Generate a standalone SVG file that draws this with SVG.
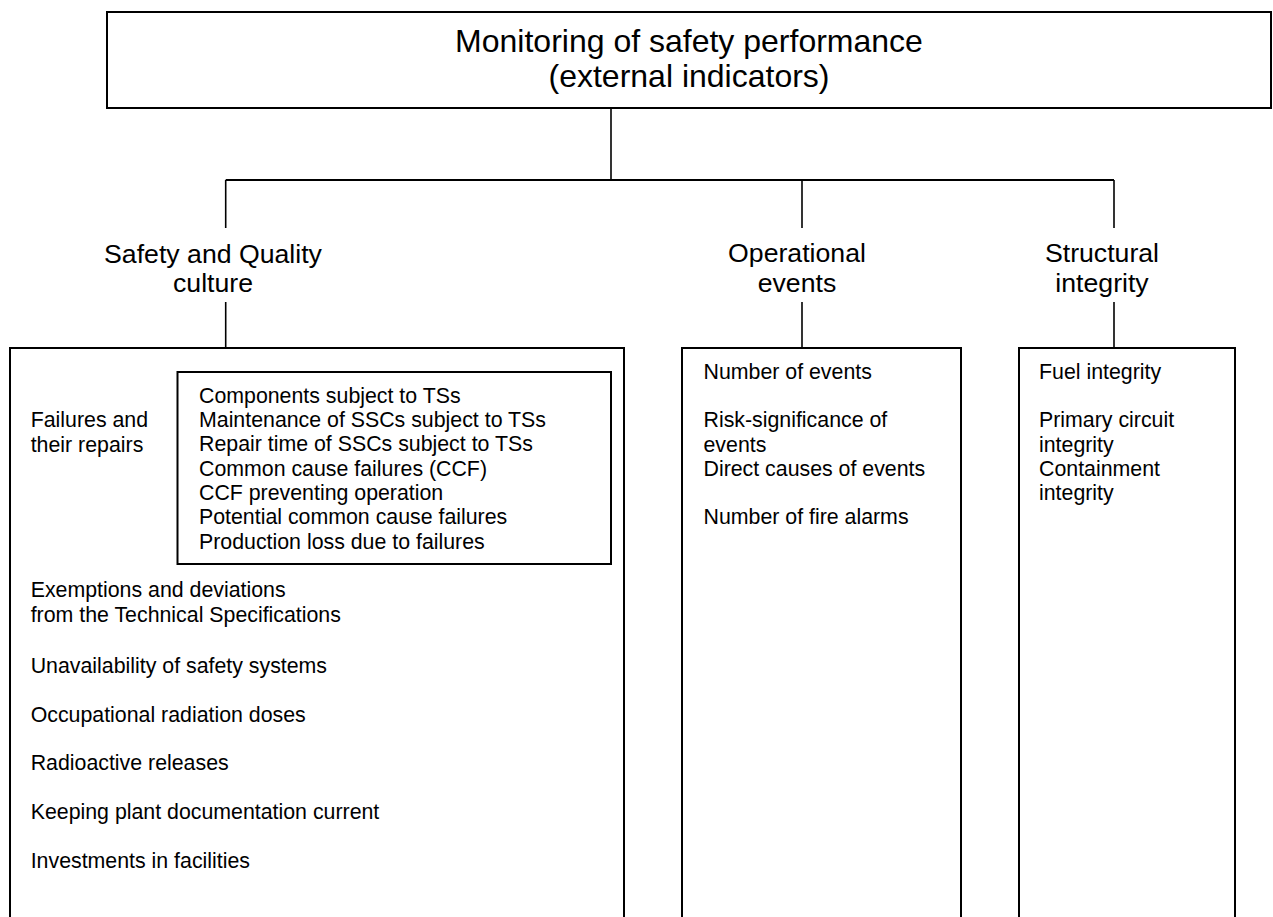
<svg xmlns="http://www.w3.org/2000/svg" width="1273" height="917" viewBox="0 0 1273 917">
  <style>
    .box { fill: #ffffff; stroke: #000000; stroke-width: 2; }
    .open { fill: none; stroke: #000000; stroke-width: 2; }
    .wire { fill: none; stroke: #000000; stroke-width: 1.6; }
    .bus { fill: none; stroke: #000000; stroke-width: 2.2; }
    text { font-family: "Liberation Sans", Arial, sans-serif; fill: #000000; }
    .title { font-size: 32px; text-anchor: middle; }
    .head { font-size: 26.67px; text-anchor: middle; }
    .item { font-size: 21.33px; }
  </style>

  <rect width="1273" height="917" fill="#ffffff"/>

  <!-- connectors -->
  <g id="connectors">
    <path class="wire" d="M611,108 V180"/>
    <path class="bus" d="M225.7,180 H1114"/>
    <path class="wire" d="M225.7,180 V228"/>
    <path class="wire" d="M802,180 V228"/>
    <path class="wire" d="M1114,180 V228"/>
    <path class="wire" d="M225.7,302 V347"/>
    <path class="wire" d="M802,302 V347"/>
    <path class="wire" d="M1114,302 V347"/>
  </g>

  <!-- root node -->
  <g id="root">
    <rect class="box" x="107" y="12" width="1164" height="96"/>
    <text class="title" x="689" y="52">Monitoring of safety performance</text>
    <text class="title" x="689" y="87">(external indicators)</text>
  </g>

  <!-- category headings -->
  <g id="head-safety">
    <text class="head" x="213" y="263">Safety and Quality</text>
    <text class="head" x="213" y="292">culture</text>
  </g>
  <g id="head-events">
    <text class="head" x="797" y="262">Operational</text>
    <text class="head" x="797" y="292">events</text>
  </g>
  <g id="head-structural">
    <text class="head" x="1102" y="262">Structural</text>
    <text class="head" x="1102" y="292">integrity</text>
  </g>

  <!-- safety and quality culture indicators -->
  <g id="list-safety">
    <path class="open" d="M10,917 V348 H624 V917"/>
    <text class="item" x="30.7" y="427">Failures and</text>
    <text class="item" x="30.7" y="452">their repairs</text>
    <g id="list-failures">
      <rect class="box" x="177.5" y="372" width="433.5" height="192"/>
      <text class="item" x="199" y="403">Components subject to TSs</text>
      <text class="item" x="199" y="427">Maintenance of SSCs subject to TSs</text>
      <text class="item" x="199" y="451">Repair time of SSCs subject to TSs</text>
      <text class="item" x="199" y="476">Common cause failures (CCF)</text>
      <text class="item" x="199" y="500">CCF preventing operation</text>
      <text class="item" x="199" y="524">Potential common cause failures</text>
      <text class="item" x="199" y="549">Production loss due to failures</text>
    </g>
    <text class="item" x="30.7" y="597">Exemptions and deviations</text>
    <text class="item" x="30.7" y="622">from the Technical Specifications</text>
    <text class="item" x="30.7" y="673">Unavailability of safety systems</text>
    <text class="item" x="30.7" y="722">Occupational radiation doses</text>
    <text class="item" x="30.7" y="770">Radioactive releases</text>
    <text class="item" x="30.7" y="819">Keeping plant documentation current</text>
    <text class="item" x="30.7" y="868">Investments in facilities</text>
  </g>

  <!-- operational events indicators -->
  <g id="list-events">
    <path class="open" d="M682,917 V348 H961 V917"/>
    <text class="item" x="703.5" y="379">Number of events</text>
    <text class="item" x="703.5" y="427">Risk-significance of</text>
    <text class="item" x="703.5" y="452">events</text>
    <text class="item" x="703.5" y="476">Direct causes of events</text>
    <text class="item" x="703.5" y="524">Number of fire alarms</text>
  </g>

  <!-- structural integrity indicators -->
  <g id="list-structural">
    <path class="open" d="M1019,917 V348 H1235 V917"/>
    <text class="item" x="1039" y="379">Fuel integrity</text>
    <text class="item" x="1039" y="427">Primary circuit</text>
    <text class="item" x="1039" y="452">integrity</text>
    <text class="item" x="1039" y="476">Containment</text>
    <text class="item" x="1039" y="500">integrity</text>
  </g>
</svg>
